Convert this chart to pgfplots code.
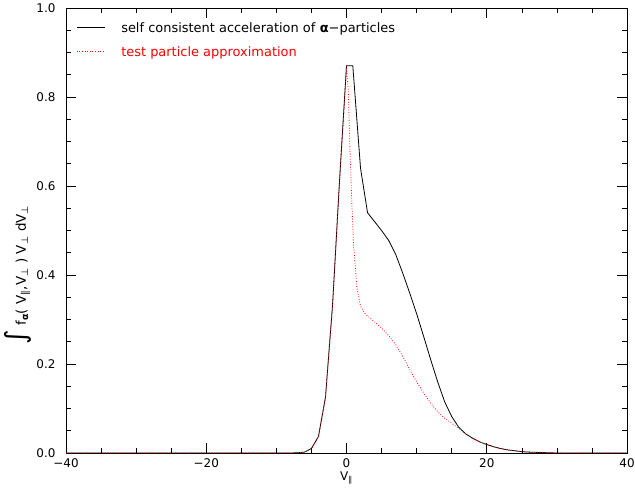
\documentclass[border=0pt]{standalone}
\usepackage{fontspec}
\setmainfont{DejaVu Sans}
\usepackage{pgfplots}
\pgfplotsset{compat=1.18}
\begin{document}
\begin{tikzpicture}
\begin{axis}[
  name=ax, at={(0,0)}, anchor=south west,
  width=561bp, height=445bp, scale only axis,
  xmin=-40, xmax=40, ymin=0, ymax=1,
  xtick={-40,-20,0,20,40}, xticklabels={−40,−20,0,20,40},
  ytick={0,0.2,0.4,0.6,0.8,1.0}, yticklabels={0.0,0.2,0.4,0.6,0.8,1.0},
  tick align=inside,
  major tick length=10bp,
  tick style={black, line width=0.6pt},
  axis line style={line width=0.8pt},
  unbounded coords=jump,
  clip=false,
  ticklabel style={font=\fontsize{12}{14}\selectfont},
  yticklabel style={xshift=-7bp},
  xticklabel style={yshift=-2bp},
  xlabel={V\textsubscript{∥}},
  xlabel style={at={(axis description cs:0.5,-0.056)}, anchor=center, font=\fontsize{12}{14}\selectfont},
  ylabel={{\fontsize{28}{28}\selectfont ∫} f\textsubscript{\textbf{α}}( V\textsubscript{∥},V\textsubscript{⊥} ) V\textsubscript{⊥} dV\textsubscript{⊥}},
  ylabel style={at={(axis description cs:-0.085,0.40)}, anchor=center, font=\fontsize{13.5}{15}\selectfont},
  legend style={at={(0.013,0.977)}, anchor=north west, draw=none, fill=none,
    font=\fontsize{13}{15}\selectfont, row sep=10bp, nodes={inner sep=2bp, text depth=0pt}},
  legend cell align=left,
  legend image code/.code={\draw[#1] (0bp,0bp) -- (28bp,0bp);},
]
\addplot[black, line width=0.8pt]
coordinates {(-40,0) (-10,0) (-8,0) (-7,0.0005) (-6,0.002) (-5,0.010) (-4,0.037) (-3,0.125) (-2,0.33) (-1,0.61) (0,0.87) (0.9,0.87) (2,0.64) (3,0.54) (4,0.52) (5,0.50) (6,0.478) (7,0.447) (8,0.405) (9,0.36) (10,0.313) (11,0.262) (12,0.21) (13,0.16) (14,0.115) (15,0.082) (16,0.058) (17,0.043) (18,0.033) (19,0.025) (20,0.019) (21,0.014) (22,0.010) (23,0.007) (24,0.005) (25,0.003) (26,0.002) (28,0.001) (30,0) (40,0)};
\addlegendentry{\hspace{14bp}self consistent acceleration of \textbf{α}−particles}
\addplot[red, line width=0.8pt, dash pattern=on 0.8bp off 1.8bp]
coordinates {(-40,0) (-10,0) (-8,0) (-7,0.0005) (-6,0.002) (-5,0.010) (-4,0.037) (-3,0.125) (-2,0.33) (-1,0.61) (0,0.87) (0.25,0.815) (0.5,0.68) (0.75,0.565) (1,0.47) (1.5,0.37) (2,0.33) (2.7,0.312) (3,0.308) (4,0.295) (5,0.281) (6,0.264) (7,0.244) (8,0.218) (9,0.188) (10,0.16) (11,0.135) (12,0.112) (13,0.093) (14,0.078) (15,0.067) (16,0.055) (17,0.043) (18,0.033) (19,0.025) (20,0.019) (21,0.014) (22,0.010) (23,0.007) (24,0.005) (25,0.003) (26,0.002) (28,0.001) (30,0) (40,0)};
\addlegendentry{\hspace{14bp}\textcolor{red}{test particle approximation}}
% tick marks (bottom and top)
\addplot[black, line width=0.6pt, forget plot] coordinates {
(-20,0) (-20,0.0225) (nan,nan) (0,0) (0,0.0225) (nan,nan) (20,0) (20,0.0225) (nan,nan)
(-20,1) (-20,0.9775) (nan,nan) (0,1) (0,0.9775) (nan,nan) (20,1) (20,0.9775) (nan,nan)
(-35,0) (-35,0.0112) (nan,nan) (-30,0) (-30,0.0112) (nan,nan) (-25,0) (-25,0.0112) (nan,nan)
(-15,0) (-15,0.0112) (nan,nan) (-10,0) (-10,0.0112) (nan,nan) (-5,0) (-5,0.0112) (nan,nan)
(5,0) (5,0.0112) (nan,nan) (10,0) (10,0.0112) (nan,nan) (15,0) (15,0.0112) (nan,nan)
(25,0) (25,0.0112) (nan,nan) (30,0) (30,0.0112) (nan,nan) (35,0) (35,0.0112) (nan,nan)
(-35,1) (-35,0.9888) (nan,nan) (-30,1) (-30,0.9888) (nan,nan) (-25,1) (-25,0.9888) (nan,nan)
(-15,1) (-15,0.9888) (nan,nan) (-10,1) (-10,0.9888) (nan,nan) (-5,1) (-5,0.9888) (nan,nan)
(5,1) (5,0.9888) (nan,nan) (10,1) (10,0.9888) (nan,nan) (15,1) (15,0.9888) (nan,nan)
(25,1) (25,0.9888) (nan,nan) (30,1) (30,0.9888) (nan,nan) (35,1) (35,0.9888)};
% tick marks (left and right)
\addplot[black, line width=0.6pt, forget plot] coordinates {
(-40,0.2) (-38.57,0.2) (nan,nan) (-40,0.4) (-38.57,0.4) (nan,nan) (-40,0.6) (-38.57,0.6) (nan,nan) (-40,0.8) (-38.57,0.8) (nan,nan)
(40,0.2) (38.57,0.2) (nan,nan) (40,0.4) (38.57,0.4) (nan,nan) (40,0.6) (38.57,0.6) (nan,nan) (40,0.8) (38.57,0.8) (nan,nan)
(-40,0.05) (-39.29,0.05) (nan,nan) (-40,0.1) (-39.29,0.1) (nan,nan) (-40,0.15) (-39.29,0.15) (nan,nan)
(-40,0.25) (-39.29,0.25) (nan,nan) (-40,0.3) (-39.29,0.3) (nan,nan) (-40,0.35) (-39.29,0.35) (nan,nan)
(-40,0.45) (-39.29,0.45) (nan,nan) (-40,0.5) (-39.29,0.5) (nan,nan) (-40,0.55) (-39.29,0.55) (nan,nan)
(-40,0.65) (-39.29,0.65) (nan,nan) (-40,0.7) (-39.29,0.7) (nan,nan) (-40,0.75) (-39.29,0.75) (nan,nan)
(-40,0.85) (-39.29,0.85) (nan,nan) (-40,0.9) (-39.29,0.9) (nan,nan) (-40,0.95) (-39.29,0.95) (nan,nan)
(40,0.05) (39.29,0.05) (nan,nan) (40,0.1) (39.29,0.1) (nan,nan) (40,0.15) (39.29,0.15) (nan,nan)
(40,0.25) (39.29,0.25) (nan,nan) (40,0.3) (39.29,0.3) (nan,nan) (40,0.35) (39.29,0.35) (nan,nan)
(40,0.45) (39.29,0.45) (nan,nan) (40,0.5) (39.29,0.5) (nan,nan) (40,0.55) (39.29,0.55) (nan,nan)
(40,0.65) (39.29,0.65) (nan,nan) (40,0.7) (39.29,0.7) (nan,nan) (40,0.75) (39.29,0.75) (nan,nan)
(40,0.85) (39.29,0.85) (nan,nan) (40,0.9) (39.29,0.9) (nan,nan) (40,0.95) (39.29,0.95)};
\end{axis}
\pgfresetboundingbox
\useasboundingbox ([xshift=-66bp,yshift=-41bp]ax.south west) rectangle ([xshift=8bp,yshift=8bp]ax.north east);
\end{tikzpicture}
\end{document}
